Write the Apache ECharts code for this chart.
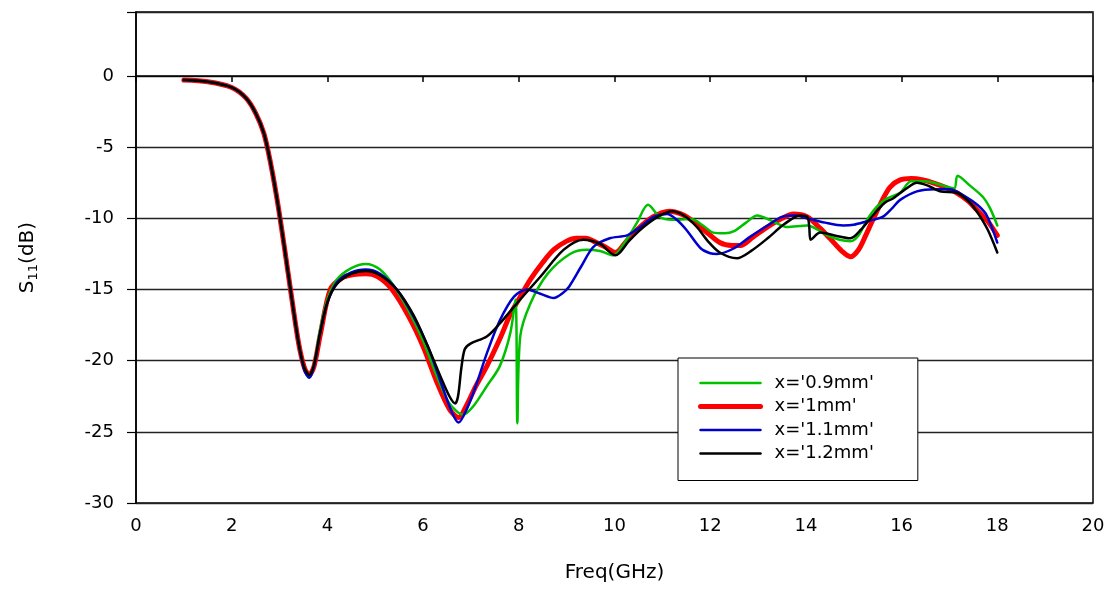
<!DOCTYPE html>
<html>
<head>
<meta charset="utf-8">
<script src="https://cdn.jsdelivr.net/npm/echarts@6/dist/echarts.min.js"></script>
<style>
html,body{margin:0;padding:0;background:#fff;}
#chart{width:1118px;height:589px;}
</style>
</head>
<body>
<div id="chart"></div>
<script>
// ---- data ----
var xTicks = [0, 2, 4, 6, 8, 10, 12, 14, 16, 18, 20];
var yTicks = [-30, -25, -20, -15, -10, -5, 0];
var seriesNames = ["x='0.9mm'", "x='1mm'", "x='1.1mm'", "x='1.2mm'"];

var freqStart = [1.0, 1.5, 2.0, 2.3, 2.5, 2.67, 2.8, 2.95, 3.1, 3.25, 3.4];
var s11Start  = [-0.28, -0.40, -0.80, -1.55, -2.6, -4.0, -5.9, -8.7, -12.0, -15.5, -18.8];

// x = 0.9 mm (green)
var freq09 = [3.52, 3.62, 3.72, 3.85, 4.0, 4.2, 4.5, 4.8, 5.1, 5.4, 5.7, 6.0, 6.3, 6.55, 6.84, 7.05, 7.33, 7.6, 7.82, 7.93, 7.97, 8.03, 8.24, 8.6, 9.07, 9.42, 9.7, 9.97, 10.25, 10.47, 10.7, 10.95, 11.2, 11.6, 11.85, 12.06, 12.3, 12.5, 12.75, 12.98, 13.3, 13.6, 14.03, 14.25, 14.45, 14.7, 14.93, 15.1, 15.28, 15.48, 15.7, 15.97, 16.2, 16.5, 16.87, 17.1, 17.17, 17.43, 17.7, 17.85, 18.0];
var s11_09 = [-20.6, -21.2, -20.3, -17.8, -15.7, -14.3, -13.5, -13.2, -13.6, -14.8, -16.5, -18.6, -21.2, -23.0, -23.8, -23.2, -21.8, -20.4, -18.1, -15.7, -24.4, -18.3, -16.0, -13.9, -12.5, -12.2, -12.3, -12.6, -11.5, -10.3, -9.05, -9.9, -10.1, -10.05, -10.5, -11.0, -11.05, -10.9, -10.3, -9.8, -10.2, -10.6, -10.5, -10.8, -11.2, -11.5, -11.6, -11.2, -10.1, -9.2, -8.6, -8.2, -7.4, -7.4, -7.7, -7.9, -7.0, -7.7, -8.5, -9.3, -10.5];

// x = 1 mm (red)
var freq10 = [3.52, 3.62, 3.72, 3.85, 4.06, 4.3, 4.55, 4.8, 5.05, 5.35, 5.7, 6.0, 6.3, 6.55, 6.74, 6.9, 7.1, 7.33, 7.6, 7.83, 8.05, 8.24, 8.5, 8.73, 9.0, 9.2, 9.4, 9.56, 9.8, 10.02, 10.25, 10.47, 10.8, 11.15, 11.4, 11.6, 11.9, 12.2, 12.45, 12.63, 12.9, 13.2, 13.5, 13.74, 14.03, 14.3, 14.5, 14.75, 14.93, 15.1, 15.25, 15.4, 15.6, 15.76, 15.97, 16.2, 16.45, 16.66, 16.9, 17.15, 17.4, 17.57, 17.8, 18.0];
var s11_10 = [-20.5, -21.0, -20.4, -18.2, -15.0, -14.2, -13.95, -13.9, -14.1, -15.0, -16.9, -19.0, -21.6, -23.4, -24.0, -23.2, -21.8, -20.4, -18.5, -16.7, -15.4, -14.3, -13.1, -12.2, -11.6, -11.4, -11.4, -11.6, -12.0, -12.4, -11.6, -10.8, -9.9, -9.5, -9.7, -10.1, -10.9, -11.7, -11.9, -11.9, -11.3, -10.6, -10.0, -9.7, -9.9, -10.7, -11.4, -12.3, -12.7, -12.2, -11.2, -10.1, -8.7, -7.8, -7.3, -7.2, -7.3, -7.5, -7.8, -8.2, -8.8, -9.4, -10.2, -11.2];

// x = 1.1 mm (blue)
var freq11 = [3.52, 3.62, 3.72, 3.85, 4.0, 4.2, 4.5, 4.8, 5.1, 5.45, 5.8, 6.1, 6.4, 6.6, 6.74, 6.9, 7.1, 7.33, 7.6, 7.9, 8.17, 8.45, 8.73, 8.9, 9.05, 9.3, 9.56, 9.9, 10.26, 10.5, 10.82, 11.1, 11.3, 11.5, 11.8, 12.0, 12.14, 12.5, 12.83, 13.2, 13.5, 13.8, 14.03, 14.4, 14.78, 15.0, 15.28, 15.6, 15.8, 15.97, 16.32, 16.7, 17.0, 17.35, 17.6, 17.78, 18.0];
var s11_11 = [-20.7, -21.2, -20.4, -18.0, -15.9, -14.5, -13.8, -13.6, -13.9, -15.0, -16.9, -19.0, -21.8, -23.6, -24.35, -23.5, -21.8, -19.5, -17.2, -15.5, -15.0, -15.3, -15.6, -15.3, -14.8, -13.4, -12.0, -11.4, -11.2, -10.7, -9.9, -9.7, -10.1, -10.8, -12.1, -12.45, -12.5, -12.1, -11.3, -10.5, -9.9, -9.8, -10.0, -10.3, -10.5, -10.45, -10.2, -9.9, -9.3, -8.7, -8.1, -7.95, -7.95, -8.5, -9.1, -9.8, -11.7];

// x = 1.2 mm (black)
var freq12 = [3.52, 3.62, 3.72, 3.85, 4.0, 4.2, 4.5, 4.8, 5.1, 5.45, 5.8, 6.1, 6.35, 6.55, 6.67, 6.73, 6.8, 6.87, 6.99, 7.33, 7.6, 8.03, 8.45, 8.94, 9.35, 9.7, 10.02, 10.3, 10.54, 10.9, 11.2, 11.45, 11.72, 11.95, 12.2, 12.56, 12.85, 13.2, 13.55, 13.88, 14.03, 14.07, 14.1, 14.3, 14.6, 14.93, 15.15, 15.4, 15.65, 15.82, 16.1, 16.32, 16.55, 16.8, 17.15, 17.4, 17.57, 17.8, 18.0];
var s11_12 = [-20.5, -21.0, -20.3, -18.0, -15.9, -14.6, -13.9, -13.7, -14.0, -15.0, -16.8, -19.0, -21.0, -22.5, -23.0, -22.5, -20.5, -19.2, -18.8, -18.3, -17.4, -15.7, -14.1, -12.2, -11.5, -11.8, -12.6, -11.6, -10.8, -9.9, -9.5, -9.8, -10.6, -11.6, -12.4, -12.8, -12.3, -11.4, -10.4, -9.8, -9.9, -10.6, -11.5, -11.0, -11.2, -11.4, -10.8, -9.8, -8.9, -8.6, -7.9, -7.5, -7.7, -8.1, -8.2, -8.8, -9.5, -10.8, -12.4];

function pairs(fx, fy) {
  var fa = freqStart.concat(fx), va = s11Start.concat(fy), out = [];
  for (var i = 0; i < fa.length; i++) out.push([fa[i], va[i]]);
  return out;
}

var FONT = 'DejaVu Sans';
var colors = ['#00c000', '#ff0000', '#0000cc', '#000000'];
var widths = [2.5, 5, 2.5, 2.5];
var chart = echarts.init(document.getElementById('chart'), null, {renderer: 'canvas'});

function mk(idx, fx, fy, z) {
  return {
    name: seriesNames[idx], type: 'line', data: pairs(fx, fy),
    smooth: 0.3,
    symbol: 'none', showSymbol: false, z: z,
    lineStyle: {color: colors[idx], width: widths[idx], join: 'round', cap: 'round'},
    itemStyle: {color: colors[idx]}
  };
}

chart.setOption({
  animation: false,
  backgroundColor: '#ffffff',
  grid: {left: 136, right: 25, top: 12, bottom: 86, show: true, borderColor: '#000', borderWidth: 1.5, backgroundColor: 'transparent'},
  legend: {
    data: seriesNames.map(function (n, i) {
      return {name: n, lineStyle: {color: colors[i], width: widths[i]}};
    }),
    orient: 'vertical',
    left: 678, top: 358,
    padding: [16, 44, 18, 20],
    itemWidth: 60, itemHeight: 18, itemGap: 5.5,
    itemStyle: {opacity: 0},
    backgroundColor: '#fff', borderColor: '#000', borderWidth: 1,
    textStyle: {fontFamily: FONT, fontSize: 18, color: '#000', padding: [0, 0, 0, 9], lineHeight: 18}
  },
  xAxis: {
    type: 'value', min: xTicks[0], max: xTicks[xTicks.length - 1], interval: 2,
    name: 'Freq(GHz)', nameLocation: 'middle', nameGap: 60,
    nameTextStyle: {fontFamily: FONT, fontSize: 20, color: '#000'},
    axisLine: {show: true, lineStyle: {color: '#000', width: 1.5}},
    axisTick: {show: true, inside: false, length: 6, lineStyle: {color: '#000', width: 1.5}},
    axisLabel: {fontFamily: FONT, fontSize: 18, color: '#000', margin: 14},
    splitLine: {show: false}
  },
  yAxis: {
    type: 'value', min: yTicks[0], max: 4.5, interval: 5,
    name: '{s|S}{sub|11}{s|(dB)}', nameLocation: 'middle', nameGap: 96, nameRotate: 90,
    nameTextStyle: {
      color: '#000',
      rich: {
        s: {fontFamily: FONT, fontSize: 20, color: '#000', lineHeight: 24},
        sub: {fontFamily: FONT, fontSize: 13, color: '#000', lineHeight: 24, verticalAlign: 'bottom', padding: [10, 0, 0, 0]}
      }
    },
    axisLine: {show: true, lineStyle: {color: '#000', width: 1.5}},
    axisTick: {show: true, inside: false, length: 9, lineStyle: {color: '#000', width: 1.2}},
    axisLabel: {fontFamily: FONT, fontSize: 18, color: '#000', margin: 22,
      formatter: function (v) { return v > 0 ? '' : String(v); }},
    splitLine: {show: true, lineStyle: {color: '#222', width: 1.3}}
  },
  series: [
    mk(1, freq10, s11_10, 2),
    mk(0, freq09, s11_09, 3),
    mk(2, freq11, s11_11, 4),
    mk(3, freq12, s11_12, 5)
  ]
});
</script>
</body>
</html>
